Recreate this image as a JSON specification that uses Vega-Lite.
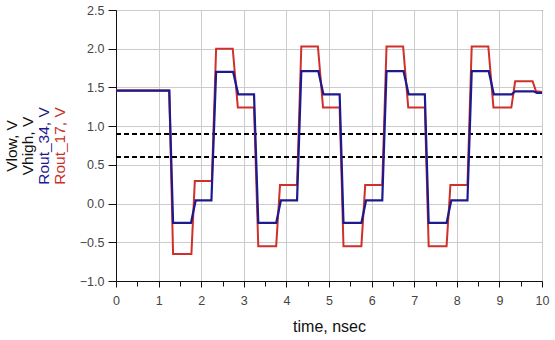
{
  "$schema": "https://vega.github.io/schema/vega-lite/v6.json",
  "width": 426,
  "height": 271,
  "autosize": "none",
  "padding": {"left": 116, "top": 10, "right": 13, "bottom": 59},
  "background": "white",
  "config": {
    "view": {"stroke": "#222", "strokeWidth": 1},
    "font": "Liberation Sans",
    "axis": {"labelFont": "Liberation Sans", "titleFont": "Liberation Sans", "titleFontWeight": "normal"}
  },
  "datasets": {
    "thresholds": [
      {"name": "Vlow", "t": 0, "v": 0.6},
      {"name": "Vlow", "t": 10, "v": 0.6},
      {"name": "Vhigh", "t": 0, "v": 0.9},
      {"name": "Vhigh", "t": 10, "v": 0.9}
    ],
    "rout17": [
      {"t": 0, "v": 1.46}, {"t": 1.25, "v": 1.46}, {"t": 1.34, "v": -0.65}, {"t": 1.77, "v": -0.65},
      {"t": 1.85, "v": 0.29}, {"t": 2.25, "v": 0.29}, {"t": 2.35, "v": 2.0}, {"t": 2.74, "v": 2.0},
      {"t": 2.86, "v": 1.24}, {"t": 3.24, "v": 1.24}, {"t": 3.34, "v": -0.55}, {"t": 3.76, "v": -0.55},
      {"t": 3.85, "v": 0.24}, {"t": 4.25, "v": 0.24}, {"t": 4.35, "v": 2.03}, {"t": 4.74, "v": 2.03},
      {"t": 4.86, "v": 1.24}, {"t": 5.25, "v": 1.24}, {"t": 5.34, "v": -0.55}, {"t": 5.76, "v": -0.55},
      {"t": 5.85, "v": 0.24}, {"t": 6.25, "v": 0.24}, {"t": 6.35, "v": 2.03}, {"t": 6.74, "v": 2.03},
      {"t": 6.86, "v": 1.24}, {"t": 7.25, "v": 1.24}, {"t": 7.34, "v": -0.55}, {"t": 7.76, "v": -0.55},
      {"t": 7.85, "v": 0.24}, {"t": 8.25, "v": 0.24}, {"t": 8.35, "v": 2.03}, {"t": 8.74, "v": 2.03},
      {"t": 8.86, "v": 1.24}, {"t": 9.28, "v": 1.24}, {"t": 9.37, "v": 1.58}, {"t": 9.78, "v": 1.58},
      {"t": 9.86, "v": 1.45}, {"t": 10, "v": 1.44}
    ],
    "rout34": [
      {"t": 0, "v": 1.46}, {"t": 1.25, "v": 1.46}, {"t": 1.34, "v": -0.25}, {"t": 1.76, "v": -0.25},
      {"t": 1.87, "v": 0.04}, {"t": 2.24, "v": 0.04}, {"t": 2.35, "v": 1.7}, {"t": 2.75, "v": 1.7},
      {"t": 2.87, "v": 1.41}, {"t": 3.24, "v": 1.41}, {"t": 3.34, "v": -0.25}, {"t": 3.76, "v": -0.25},
      {"t": 3.87, "v": 0.04}, {"t": 4.25, "v": 0.04}, {"t": 4.35, "v": 1.71}, {"t": 4.75, "v": 1.71},
      {"t": 4.87, "v": 1.41}, {"t": 5.25, "v": 1.41}, {"t": 5.34, "v": -0.25}, {"t": 5.76, "v": -0.25},
      {"t": 5.87, "v": 0.04}, {"t": 6.25, "v": 0.04}, {"t": 6.35, "v": 1.71}, {"t": 6.75, "v": 1.71},
      {"t": 6.87, "v": 1.41}, {"t": 7.25, "v": 1.41}, {"t": 7.34, "v": -0.25}, {"t": 7.76, "v": -0.25},
      {"t": 7.87, "v": 0.04}, {"t": 8.25, "v": 0.04}, {"t": 8.35, "v": 1.71}, {"t": 8.75, "v": 1.71},
      {"t": 8.87, "v": 1.41}, {"t": 9.29, "v": 1.41}, {"t": 9.37, "v": 1.45}, {"t": 9.8, "v": 1.45},
      {"t": 9.88, "v": 1.43}, {"t": 10, "v": 1.43}
    ]
  },
  "resolve": {"axis": {"x": "independent", "y": "independent"}},
  "layer": [
    {
      "data": {"name": "thresholds"},
      "mark": {"type": "line", "color": "#000", "strokeWidth": 2, "strokeDash": [5, 3]},
      "encoding": {
        "detail": {"field": "name"},
        "x": {
          "field": "t", "type": "quantitative",
          "scale": {"domain": [0, 10], "nice": false},
          "axis": {
            "orient": "bottom",
            "values": [0, 0.5, 1, 1.5, 2, 2.5, 3, 3.5, 4, 4.5, 5, 5.5, 6, 6.5, 7, 7.5, 8, 8.5, 9, 9.5, 10],
            "labelExpr": "datum.value % 1 === 0 ? format(datum.value, 'd') : ''",
            "grid": true,
            "gridColor": "#cccccc",
            "gridOpacity": {"condition": {"test": "datum.value % 1 !== 0", "value": 0}, "value": 1},
            "tickSize": {"condition": {"test": "datum.value % 1 !== 0", "value": 5}, "value": 6},
            "tickColor": "#111",
            "domainColor": "#111",
            "labelFontSize": 12.5,
            "labelColor": "#444",
            "labelPadding": 7,
            "labelFlush": false,
            "title": "time, nsec",
            "titleFontSize": 16,
            "titleColor": "#111",
            "titlePadding": 12
          }
        },
        "y": {
          "field": "v", "type": "quantitative",
          "scale": {"domain": [-1, 2.5], "nice": false, "zero": false},
          "axis": {
            "orient": "left",
            "values": [-1, -0.5, 0, 0.5, 1, 1.5, 2, 2.5],
            "format": ".1f",
            "grid": true,
            "gridColor": "#cccccc",
            "tickSize": 8,
            "tickColor": "#111",
            "domainColor": "#111",
            "labelFontSize": 12.5,
            "labelColor": "#444",
            "labelPadding": 4,
            "labelFlush": false,
            "title": ["Vlow, V", "Vhigh, V"],
            "titleFontSize": 15.5,
            "titleLineHeight": 16,
            "titleColor": "#111",
            "titlePadding": 44
          }
        }
      }
    },
    {
      "data": {"name": "rout17"},
      "mark": {"type": "line", "color": "#d0302a", "strokeWidth": 2},
      "encoding": {
        "x": {"field": "t", "type": "quantitative", "scale": {"domain": [0, 10], "nice": false}, "axis": null},
        "y": {
          "field": "v", "type": "quantitative",
          "scale": {"domain": [-1, 2.5], "nice": false, "zero": false},
          "axis": {
            "orient": "left", "labels": false, "ticks": false, "domain": false, "grid": false,
            "title": "Rout_17, V", "titleFontSize": 15.5, "titleColor": "#c8302a", "titlePadding": 49
          }
        }
      }
    },
    {
      "data": {"name": "rout34"},
      "mark": {"type": "line", "color": "#1c1a8c", "strokeWidth": 2.2},
      "encoding": {
        "x": {"field": "t", "type": "quantitative", "scale": {"domain": [0, 10], "nice": false}, "axis": null},
        "y": {
          "field": "v", "type": "quantitative",
          "scale": {"domain": [-1, 2.5], "nice": false, "zero": false},
          "axis": {
            "orient": "left", "labels": false, "ticks": false, "domain": false, "grid": false,
            "title": "Rout_34, V", "titleFontSize": 15.5, "titleColor": "#1c1a8c", "titlePadding": 65
          }
        }
      }
    }
  ]
}
